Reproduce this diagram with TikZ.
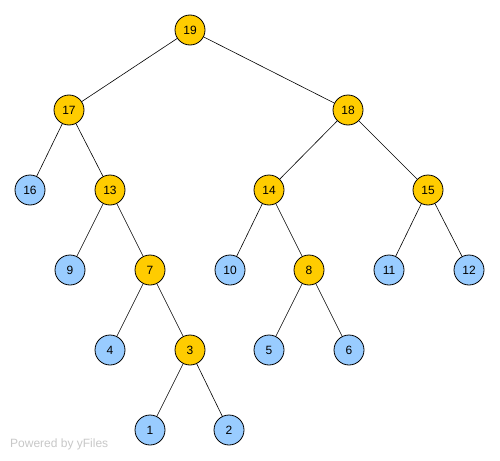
\documentclass[tikz,border=0pt]{standalone}
\usepackage{fontspec}
\setmainfont{Liberation Sans}
\begin{document}
\begin{tikzpicture}[x=1pt,y=-1pt,
  vert/.style={circle,draw=black,line width=0.8pt,minimum size=30pt,inner sep=0pt,font=\fontsize{12}{14}\selectfont},
  inner/.style={vert,fill={rgb,255:red,255;green,204;blue,0}},
  leaf/.style={vert,fill={rgb,255:red,153;green,204;blue,255}},
  edge/.style={draw=black,line width=0.6pt}]
\useasboundingbox (0,0) rectangle (500,460);
\fill[white] (0,0) rectangle (500,460);
% internal nodes
\node[inner] (n19) at (190,30) {19};
\node[inner] (n17) at (69,110) {17};
\node[inner] (n18) at (348,110) {18};
\node[inner] (n13) at (110,190) {13};
\node[inner] (n14) at (269,190) {14};
\node[inner] (n15) at (428,190) {15};
\node[inner] (n7) at (150,270) {7};
\node[inner] (n8) at (309,270) {8};
\node[inner] (n3) at (190,350) {3};
% leaves
\node[leaf] (n16) at (30,190) {16};
\node[leaf] (n9) at (70,270) {9};
\node[leaf] (n10) at (230,270) {10};
\node[leaf] (n11) at (389,270) {11};
\node[leaf] (n12) at (469,270) {12};
\node[leaf] (n4) at (110,350) {4};
\node[leaf] (n5) at (269,350) {5};
\node[leaf] (n6) at (349,350) {6};
\node[leaf] (n1) at (150,430) {1};
\node[leaf] (n2) at (229,430) {2};
% edges
\foreach \a/\b in {n19/n17,n19/n18,n17/n16,n17/n13,n18/n14,n18/n15,
  n13/n9,n13/n7,n14/n10,n14/n8,n15/n11,n15/n12,n7/n4,n7/n3,
  n8/n5,n8/n6,n3/n1,n3/n2}
  \draw[edge] (\a) -- (\b);
% watermark
\node[anchor=base west,inner sep=0pt,text={rgb,255:red,200;green,200;blue,200},font=\fontsize{12}{14}\selectfont] (wm) at (10,447) {Powered by yFiles};
\end{tikzpicture}
\end{document}
